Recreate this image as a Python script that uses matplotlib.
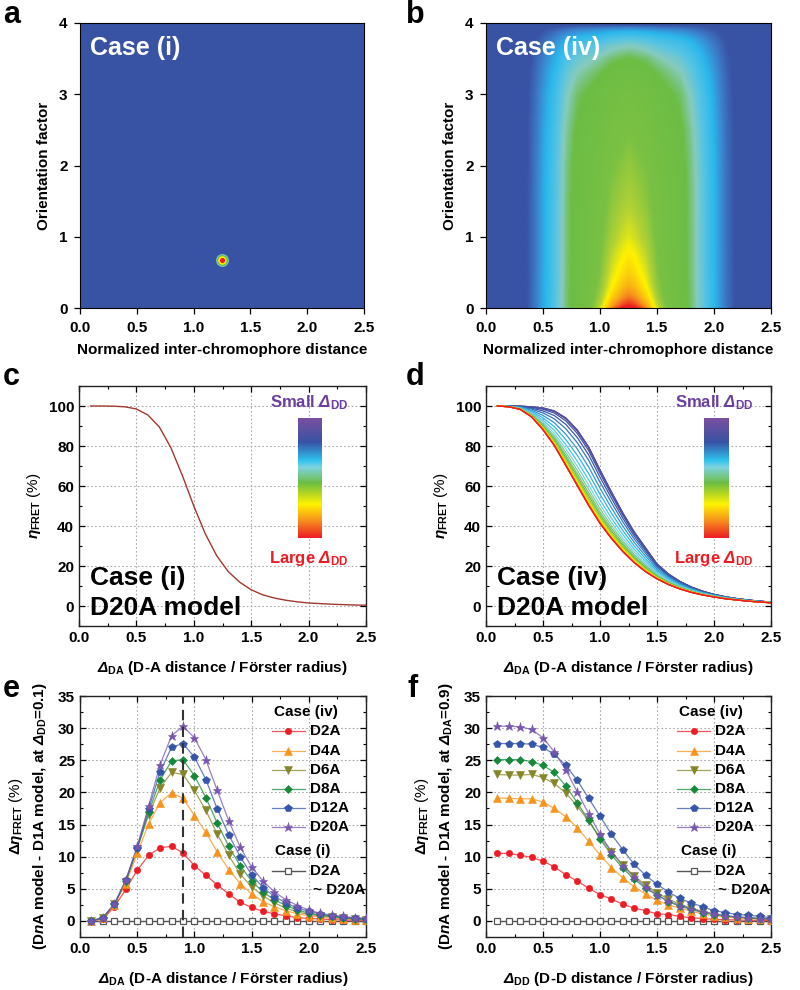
import numpy as np
import matplotlib
matplotlib.use('Agg')
import matplotlib.pyplot as plt
from matplotlib.colors import LinearSegmentedColormap
from matplotlib.ticker import MultipleLocator, FormatStrFormatter

plt.rcParams['font.family'] = ['Liberation Sans', 'DejaVu Sans']
plt.rcParams['font.weight'] = 'bold'
plt.rcParams['mathtext.fontset'] = 'custom'
plt.rcParams['mathtext.rm'] = 'Liberation Sans'
plt.rcParams['mathtext.it'] = 'Liberation Sans:italic'
plt.rcParams['mathtext.bf'] = 'Liberation Sans:bold'
HAS_BFIT = 'mathtext.bfit' in plt.rcParams
if HAS_BFIT:
    plt.rcParams['mathtext.bfit'] = 'Liberation Sans:bold:italic'
NI = r'$\mathbfit{n}$' if HAS_BFIT else r'$\mathit{n}$'
DEL = r'\mathbfit{Δ}' if HAS_BFIT else r'\mathit{Δ}'

# ---------------- data ----------------
# panel a: single orientation/distance point (case i)
dot_x = [1.25]
dot_k = [0.667]

# panel b: profiles (case iv)
map_dist = [0.0, 0.3, 0.4, 0.5, 0.6, 0.7, 0.8, 0.9, 1.0, 1.1, 1.25, 1.4, 1.5, 1.6, 1.7, 1.8, 1.9, 2.0, 2.1, 2.2, 2.3, 2.5]
map_dist_level = [0.0, 0.03, 0.12, 0.22, 0.31, 0.41, 0.47, 0.5, 0.53, 0.57, 0.6, 0.57, 0.53, 0.5, 0.47, 0.41, 0.33, 0.24, 0.14, 0.06, 0.015, 0.0]
map_core_dist = [0.0, 0.8, 0.9, 1.0, 1.1, 1.2, 1.25, 1.3, 1.4, 1.5, 1.6, 1.7, 2.5]
map_core_level = [0.0, 0.02, 0.12, 0.35, 0.7, 0.95, 1.0, 0.95, 0.7, 0.35, 0.12, 0.02, 0.0]
map_kappa = [0.0, 1.5, 2.0, 2.5, 3.0, 3.3, 3.5, 3.7, 3.8, 3.88, 3.94, 3.98, 4.0]
map_kappa_top = [1.0, 1.0, 0.99, 0.96, 0.9, 0.82, 0.74, 0.62, 0.52, 0.41, 0.28, 0.13, 0.0]
map_kappa_b = [0.0, 0.05, 0.15, 0.3, 0.5, 0.75, 1.0, 1.5, 2.0, 2.5, 4.0]
map_kappa_boost = [0.45, 0.38, 0.3, 0.23, 0.18, 0.14, 0.1, 0.05, 0.02, 0.0, 0.0]

# panels c-f: distance axis
x_vals = [0.1, 0.2, 0.3, 0.4, 0.5, 0.6, 0.7, 0.8, 0.9, 1.0, 1.1, 1.2, 1.3,
          1.4, 1.5, 1.6, 1.7, 1.8, 1.9, 2.0, 2.1, 2.2, 2.3, 2.4, 2.5]

# panel c: case (i), D20A model
eta_case_i = [100, 100, 99.9, 99.6, 98.5, 95.5, 89.5, 79.2, 65.3, 50.0, 36.1, 25.1, 17.2,
              11.9, 8.1, 5.6, 4.0, 2.9, 2.1, 1.5, 1.2, 0.9, 0.7, 0.5, 0.4]

# panel d: case (iv), D20A model, extremes of D-D distance
eta_large_dd = [100, 99.6, 98.3, 94.5, 88, 80, 70, 60, 50, 41, 33.5, 27, 21.5,
                17, 13.5, 10.7, 8.5, 6.8, 5.5, 4.5, 3.6, 3.0, 2.4, 2.0, 1.6]
eta_small_dd = [100, 100, 99.9, 99.6, 99, 97.5, 94, 88, 79.5, 68, 57, 46.5, 37,
                29, 21, 16, 12.3, 9.5, 7.4, 5.8, 4.6, 3.7, 3.0, 2.4, 2.0]

# panel e: delta eta vs D-A distance at D-D = 0.1
e_D2A = [0, 0.3, 2.2, 4.9, 7.9, 10.2, 11.4, 11.6, 10.6, 8.6, 7.1, 5.6, 4.2, 2.9, 2.1, 1.5, 1.1, 0.8, 0.5, 0.4, 0.3, 0.2, 0.15, 0.1, 0.1]
e_D4A = [0, 0.4, 2.5, 5.8, 10.5, 15.1, 18.4, 19.9, 19.1, 16.4, 13.8, 10.7, 8.0, 5.8, 4.2, 3.0, 2.2, 1.6, 1.1, 0.8, 0.6, 0.4, 0.3, 0.2, 0.2]
e_D6A = [0, 0.5, 2.6, 6.1, 11.2, 16.5, 20.7, 23.1, 22.8, 20.3, 17.2, 13.5, 10.2, 7.3, 5.3, 3.9, 2.8, 2.0, 1.4, 1.0, 0.8, 0.6, 0.4, 0.3, 0.2]
e_D8A = [0, 0.5, 2.6, 6.2, 11.3, 16.9, 21.9, 24.9, 25.1, 22.6, 19.2, 15.2, 11.6, 8.6, 6.2, 4.5, 3.3, 2.4, 1.7, 1.2, 0.9, 0.7, 0.5, 0.35, 0.25]
e_D12A = [0, 0.5, 2.6, 6.3, 11.4, 17.4, 23.2, 27.0, 27.6, 25.5, 22.0, 17.4, 13.4, 10.0, 7.2, 5.2, 3.8, 2.8, 2.0, 1.5, 1.1, 0.8, 0.6, 0.45, 0.35]
e_D20A = [0, 0.5, 2.6, 6.3, 11.6, 17.9, 24.3, 28.8, 30.3, 28.5, 25.1, 20.3, 15.6, 11.5, 8.4, 6.2, 4.5, 3.3, 2.4, 1.7, 1.2, 0.9, 0.7, 0.5, 0.4]
e_case_i = [0] * 25

# panel f: delta eta vs D-D distance at D-A = 0.9
f_D2A = [10.5, 10.5, 10.2, 9.9, 9.3, 8.4, 7.2, 6.2, 5.1, 4.1, 3.4, 2.6, 2.0, 1.6, 1.1, 1.0, 0.7, 0.5, 0.35, 0.25, 0.2, 0.15, 0.1, 0.1, 0.05]
f_D4A = [19.1, 19.1, 19.0, 19.0, 18.5, 17.5, 16.2, 14.5, 12.4, 10.3, 8.3, 6.7, 5.3, 4.2, 3.2, 2.5, 2.0, 1.5, 1.1, 0.8, 0.6, 0.45, 0.35, 0.25, 0.2]
f_D6A = [22.8, 22.7, 22.7, 22.8, 22.3, 21.4, 19.9, 17.9, 15.5, 13.0, 10.8, 8.7, 7.0, 5.6, 4.4, 3.4, 2.6, 2.0, 1.5, 1.1, 0.8, 0.6, 0.5, 0.35, 0.3]
f_D8A = [25.1, 25.1, 25.1, 24.8, 24.2, 23.1, 21.0, 18.4, 15.7, 12.8, 10.3, 8.2, 6.5, 5.1, 4.0, 3.0, 2.3, 1.8, 1.3, 1.0, 0.8, 0.6, 0.5, 0.4, 0.3]
f_D12A = [27.6, 27.6, 27.6, 27.5, 27.0, 25.9, 24.2, 21.9, 19.1, 16.3, 13.5, 11.1, 8.8, 7.1, 5.7, 4.5, 3.5, 2.8, 2.2, 1.6, 1.3, 1.0, 0.9, 0.7, 0.5]
f_D20A = [30.3, 30.3, 30.2, 29.8, 28.5, 26.3, 23.5, 20.1, 16.7, 13.5, 10.8, 8.6, 6.8, 5.3, 4.1, 3.1, 2.4, 1.9, 1.4, 1.1, 0.8, 0.6, 0.5, 0.35, 0.3]
f_case_i = [0] * 25

series_names = ['D2A', 'D4A', 'D6A', 'D8A', 'D12A', 'D20A']
series_colors = ['#ED1C24', '#F7941D', '#85852A', '#16893A', '#3555A8', '#7856B0']
series_markers = ['o', '^', 'v', 'D', 'p', '*']
series_ms = [4.6, 5.2, 5.2, 4.0, 5.6, 6.8]

# ---------------- colormaps ----------------
map_cmap = LinearSegmentedColormap.from_list('origin_map', [
    (0.0, '#3953A4'), (0.08, '#3953A4'), (0.16, '#3C7FCB'), (0.24, '#2AB7EC'),
    (0.32, '#56C4E4'), (0.38, '#86CBBE'), (0.44, '#6CBD45'), (0.58, '#7AC143'),
    (0.66, '#B5D334'), (0.73, '#FFF200'), (0.87, '#F7941D'), (1.0, '#ED1C24')])
bar_cmap = LinearSegmentedColormap.from_list('origin_bar', [
    (0.0, '#ED1C24'), (0.15, '#F7941D'), (0.28, '#FFF200'), (0.46, '#6CBD45'),
    (0.59, '#7FD3E0'), (0.65, '#2EC0EE'), (0.8, '#3953A4'), (1.0, '#7B4FA0')])

fig = plt.figure(figsize=(8, 9.9), dpi=100)
W, H = 800.0, 990.0


def add_ax(l, t, r, b):
    return fig.add_axes([l / W, 1 - b / H, (r - l) / W, (b - t) / H])


TICK_FS = 11
LAB_FS = 11


def style_line_axes(ax, ymaj, ymin):
    ax.set_xlim(0, 2.5)
    ax.xaxis.set_major_locator(MultipleLocator(0.5))
    ax.xaxis.set_minor_locator(MultipleLocator(0.25))
    ax.yaxis.set_major_locator(MultipleLocator(ymaj))
    ax.yaxis.set_minor_locator(MultipleLocator(ymin))
    ax.xaxis.set_major_formatter(FormatStrFormatter('%.1f'))
    ax.tick_params(which='both', direction='in', top=True, right=True, labelsize=TICK_FS)
    ax.tick_params(which='major', length=4, width=0.9)
    ax.tick_params(which='minor', length=2.2, width=0.8)
    for s in ax.spines.values():
        s.set_linewidth(1.0)
        s.set_color('#222222')
    ax.grid(True, which='major', linestyle=(0, (1.5, 2)), color='#AAAAAA', linewidth=0.8)
    ax.set_axisbelow(True)


def style_map_axes(ax):
    ax.set_xlim(0, 2.5)
    ax.set_ylim(0, 4)
    ax.xaxis.set_major_locator(MultipleLocator(0.5))
    ax.yaxis.set_major_locator(MultipleLocator(1))
    ax.xaxis.set_major_formatter(FormatStrFormatter('%.1f'))
    ax.tick_params(direction='out', length=4, width=0.9, labelsize=TICK_FS, pad=5)
    ax.set_xlabel('Normalized inter-chromophore distance', fontsize=LAB_FS, fontweight='bold', labelpad=6)
    ax.set_ylabel('Orientation factor', fontsize=LAB_FS, fontweight='bold', labelpad=6)


# ---------------- panel a ----------------
ax_a = add_ax(80, 23, 364, 308)
ax_a.imshow(np.zeros((2, 2)), extent=[0, 2.5, 0, 4], origin='lower', aspect='auto',
            cmap=map_cmap, vmin=0, vmax=1)
for s, c in zip([85, 62, 36, 14], ['#7FCBC8', '#6CBD45', '#FFF200', '#ED1C24']):
    ax_a.scatter(dot_x, dot_k, s=s, color=c, linewidths=0, zorder=3)
style_map_axes(ax_a)
ax_a.text(0.09, 3.55, 'Case (i)', color='white', fontsize=18, fontweight='bold')

# ---------------- panel b ----------------
ax_b = add_ax(486, 23, 771, 308)
gx = np.linspace(0, 2.5, 600)
gk = np.linspace(0, 4, 600)
lev_x = np.interp(gx, map_dist, map_dist_level)
core_x = np.interp(gx, map_core_dist, map_core_level)
top_k = np.interp(gk, map_kappa, map_kappa_top)
boost_k = np.interp(gk, map_kappa_b, map_kappa_boost)
field = top_k[:, None] * lev_x[None, :] + boost_k[:, None] * core_x[None, :]
ax_b.imshow(np.clip(field, 0, 1), extent=[0, 2.5, 0, 4], origin='lower', aspect='auto',
            cmap=map_cmap, vmin=0, vmax=1, interpolation='bilinear')
style_map_axes(ax_b)
ax_b.text(0.09, 3.55, 'Case (iv)', color='white', fontsize=18, fontweight='bold')

# ---------------- panel c ----------------
xlabel_da = r'$' + DEL + r'_{\mathbf{DA}}$ (D-A distance / Förster radius)'
ylabel_eta = r'$\mathit{η}_{\mathrm{FRET}}$ (%)'

ax_c = add_ax(79, 386, 366, 626)
style_line_axes(ax_c, 20, 10)
ax_c.set_ylim(-10, 110)
ax_c.plot(x_vals, eta_case_i, color='#A0392E', lw=1.0)
ax_c.set_xlabel(xlabel_da, fontsize=LAB_FS, fontweight='bold', labelpad=10)
ax_c.set_ylabel(ylabel_eta, fontsize=LAB_FS, fontweight='normal', labelpad=4)
ax_c.text(0.038, 0.046, 'Case (i)\nD20A model', transform=ax_c.transAxes, fontsize=19,
          fontweight='bold', linespacing=1.32, va='baseline')

# ---------------- panel d ----------------
ax_d = add_ax(486, 386, 771, 626)
style_line_axes(ax_d, 20, 10)
ax_d.set_ylim(-10, 110)
large = np.array(eta_large_dd)
small = np.array(eta_small_dd)
nd = len(f_D20A)
for i in range(nd):
    w = f_D20A[i] / f_D20A[0]
    ax_d.plot(x_vals, large + (small - large) * w, color=bar_cmap(1 - i / (nd - 1)), lw=0.9)
ax_d.set_xlabel(xlabel_da, fontsize=LAB_FS, fontweight='bold', labelpad=10)
ax_d.set_ylabel(ylabel_eta, fontsize=LAB_FS, fontweight='normal', labelpad=4)
ax_d.text(0.038, 0.046, 'Case (iv)\nD20A model', transform=ax_d.transAxes, fontsize=19,
          fontweight='bold', linespacing=1.32, va='baseline')

# colour bars in c, d
grad = np.linspace(0, 1, 256)[:, None]
for (l, r, cx) in [(298, 322, 309), (704, 729, 714)]:
    cb = add_ax(l, 418, r, 538)
    cb.imshow(grad, origin='lower', aspect='auto', cmap=bar_cmap, extent=[0, 1, 0, 1])
    cb.axis('off')
    fig.text(cx / W, 1 - 403 / H, r'Small $' + DEL + r'_{\mathbf{DD}}$', color='#6B3FA0',
             fontsize=12, fontweight='bold', ha='center', va='center')
    fig.text(cx / W, 1 - 558 / H, r'Large $' + DEL + r'_{\mathbf{DD}}$', color='#ED1C24',
             fontsize=12, fontweight='bold', ha='center', va='center')


# ---------------- panels e, f ----------------
def delta_panel(ax, series, case_i, xlabel, ylabel2):
    style_line_axes(ax, 5, 2.5)
    ax.set_ylim(-2.5, 35)
    ax.plot(x_vals, case_i, color='#555555', lw=1.0, marker='s', ms=4.6,
            mfc='white', mec='#555555', mew=0.9, zorder=2)
    for vals, c, m, ms in zip(series, series_colors, series_markers, series_ms):
        ax.plot(x_vals, vals, color=c, lw=0.9, alpha=0.75, zorder=3)
        ax.plot(x_vals, vals, ls='none', marker=m, ms=ms, color=c, mec=c, mew=0.4, zorder=4)
    ax.set_xlabel(xlabel, fontsize=LAB_FS, fontweight='bold', labelpad=10)
    # legend drawn manually
    t = ax.transAxes
    ax.text(0.79, 0.934, 'Case (iv)', transform=t, fontsize=11, fontweight='bold',
            ha='center', va='center')
    ys = [0.855, 0.772, 0.693, 0.614, 0.535, 0.456]
    for y, name, c, m, ms in zip(ys, series_names, series_colors, series_markers, series_ms):
        ax.plot([0.671, 0.787], [y, y], transform=t, color=c, lw=0.9, alpha=0.75, clip_on=False)
        ax.plot([0.729], [y], transform=t, marker=m, ms=ms, color=c, mec=c, mew=0.4, clip_on=False)
        ax.text(0.804, y, name, transform=t, fontsize=11, fontweight='bold', va='center')
    ax.text(0.78, 0.357, 'Case (i)', transform=t, fontsize=11, fontweight='bold',
            ha='center', va='center')
    ax.plot([0.671, 0.787], [0.274, 0.274], transform=t, color='#555555', lw=1.0, clip_on=False)
    ax.plot([0.729], [0.274], transform=t, marker='s', ms=4.6, mfc='white', mec='#555555',
            mew=0.9, clip_on=False)
    ax.text(0.804, 0.274, 'D2A', transform=t, fontsize=11, fontweight='bold', va='center')
    ax.text(0.815, 0.195, '~ D20A', transform=t, fontsize=11, fontweight='bold', va='center')
    # two-line y label
    ax.text(-0.225, 0.5, r'$\mathit{Δη}_{\mathrm{FRET}}$ (%)', transform=t, rotation=90,
            fontsize=11, fontweight='normal', ha='center', va='center')
    ax.text(-0.14, 0.5, ylabel2, transform=t, rotation=90,
            fontsize=11, fontweight='bold', ha='center', va='center')


ax_e = add_ax(80, 696, 366, 937)
delta_panel(ax_e, [e_D2A, e_D4A, e_D6A, e_D8A, e_D12A, e_D20A], e_case_i, xlabel_da,
            '(D' + NI + r'A model - D1A model, at $' + DEL + r'_{\mathbf{DD}}$=0.1)')
ax_e.axvline(0.9, color='#333333', lw=1.5, ls=(0, (5, 3)), zorder=5)

ax_f = add_ax(486, 696, 771, 937)
delta_panel(ax_f, [f_D2A, f_D4A, f_D6A, f_D8A, f_D12A, f_D20A], f_case_i,
            r'$' + DEL + r'_{\mathbf{DD}}$ (D-D distance / Förster radius)',
            '(D' + NI + r'A model - D1A model, at $' + DEL + r'_{\mathbf{DA}}$=0.9)')

# panel letters
for letter, x, y in [('a', 3, 23), ('b', 406, 23), ('c', 3, 385), ('d', 406, 385),
                     ('e', 3, 697), ('f', 408, 697)]:
    fig.text(x / W, 1 - y / H, letter, fontsize=22, fontweight='bold', va='baseline')

fig.savefig('out.png', dpi=100)
